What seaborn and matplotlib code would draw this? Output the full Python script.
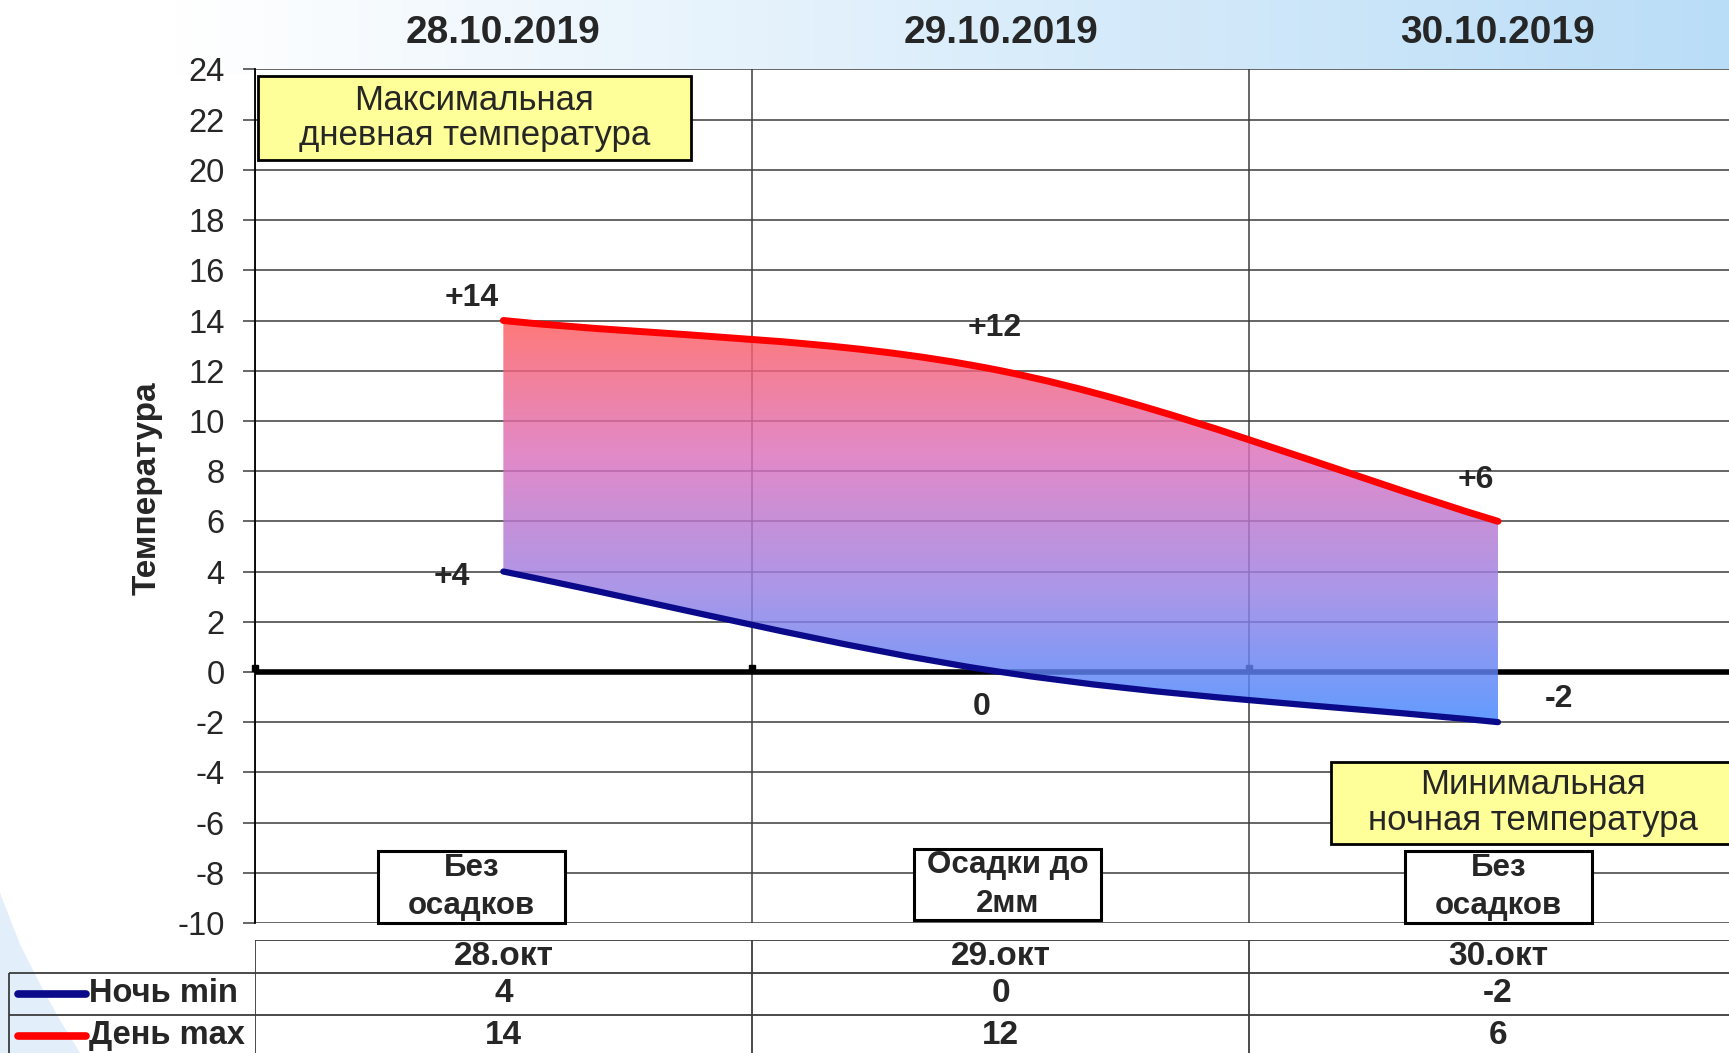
import numpy as np
import pandas as pd
import seaborn as sns
import matplotlib.pyplot as plt
import matplotlib.transforms as mtransforms
from matplotlib.path import Path
from matplotlib.patches import PathPatch, Rectangle, Polygon

# --- data ---
dates = ["28.10.2019", "29.10.2019", "30.10.2019"]
short_dates = ["28.окт", "29.окт", "30.окт"]
night_min = [4, 0, -2]
day_max = [14, 12, 6]
precip = ["Без\nосадков", "Осадки до\n2мм", "Без\nосадков"]
series_names = ["Ночь min", "День max"]

df = pd.DataFrame({"date": dates, "short": short_dates, "tmin": night_min, "tmax": day_max})
df["x"] = np.arange(len(df)) + 0.5

RED = "#ff0000"
NAVY = "#0a0a8a"

sns.set_theme(style="white", rc={"axes.unicode_minus": False})
plt.rcParams["font.family"] = ["Liberation Sans", "DejaVu Sans"]


def smooth_path(xs, ys):
    # excel style "smoothed line": bezier segments through the points
    xs = np.asarray(xs, float)
    ys = np.asarray(ys, float)
    n = len(xs)
    slopes = []
    for i in range(n):
        if i == 0:
            slopes.append((ys[1] - ys[0]) / (xs[1] - xs[0]))
        elif i == n - 1:
            slopes.append((ys[-1] - ys[-2]) / (xs[-1] - xs[-2]))
        else:
            slopes.append((ys[i + 1] - ys[i - 1]) / (xs[i + 1] - xs[i - 1]))
    verts = [(xs[0], ys[0])]
    codes = [Path.MOVETO]
    for i in range(n - 1):
        h = (xs[i + 1] - xs[i]) / 3
        verts += [(xs[i] + h, ys[i] + slopes[i] * h),
                  (xs[i + 1] - h, ys[i + 1] - slopes[i + 1] * h),
                  (xs[i + 1], ys[i + 1])]
        codes += [Path.CURVE4] * 3
    return verts, codes


fig = plt.figure(figsize=(17.29, 10.53), dpi=100)
fig.patch.set_facecolor("white")

# --- background: gradient header band + pale swoosh bottom left ---
bg = fig.add_axes([0, 0, 1, 1], zorder=-5)
bg.axis("off")
gx = np.linspace(0, 1, 512)
t = np.clip((gx - 0.10) / 0.90, 0, 1)
c0 = np.array([255, 255, 255]) / 255
c1 = np.array([186, 221, 247]) / 255
grad = (c0[None, :] * (1 - t[:, None]) + c1[None, :] * t[:, None])[None, :, :]
bg.imshow(grad, extent=(0, 1, 0.93, 1), aspect="auto")
bg.add_patch(Polygon([(0, 0.152), (0.0116, 0.103), (0.023, 0.066), (0.0347, 0.031),
                      (0.0463, 0), (0, 0)], closed=True, facecolor="#e2eefa", edgecolor="none"))
bg.set_xlim(0, 1)
bg.set_ylim(0, 1)

# --- main chart ---
ax = fig.add_axes([0.1473, 0.1235, 0.8629, 0.8105])
ax.set_facecolor("white")

top_v, top_c = smooth_path(df["x"], df["tmax"])
bot_v, bot_c = smooth_path(df["x"], df["tmin"])

# closed outline for the gradient band
rev = bot_v[::-1]
band_v = top_v + rev + [top_v[0]]
band_c = top_c + [Path.LINETO] + [Path.CURVE4] * (len(rev) - 1) + [Path.CLOSEPOLY]
band = PathPatch(Path(band_v, band_c), facecolor="none", edgecolor="none")
ax.add_patch(band)

cmap = sns.blend_palette(["#4086ff", "#9a80e4", "#dc70bc", "#ff5c5c"], as_cmap=True)
im = ax.imshow(np.linspace(1, 0, 256).reshape(-1, 1), cmap=cmap, aspect="auto",
               extent=(df["x"].min(), df["x"].max(), min(night_min), max(day_max)),
               alpha=0.82, zorder=3, interpolation="bilinear")
im.set_clip_path(band)

ax.add_patch(PathPatch(Path(top_v, top_c), facecolor="none", edgecolor=RED, lw=5,
                       capstyle="round", zorder=4))
ax.add_patch(PathPatch(Path(bot_v, bot_c), facecolor="none", edgecolor=NAVY, lw=4.5,
                       capstyle="round", zorder=4))

ax.set_xlim(0, len(dates))
ax.set_ylim(-10, 24)
ax.set_yticks(range(-10, 25, 2))
ax.grid(axis="y", color="#3c3c3c", lw=1.1)
ax.set_xticks(np.arange(len(dates) + 1), minor=True)
ax.grid(axis="x", which="minor", color="#3c3c3c", lw=1.1)
ax.set_xticks(df["x"])
ax.set_xticklabels(dates, fontsize=28, fontweight="bold")
ax.xaxis.tick_top()
ax.tick_params(axis="x", which="both", length=0, pad=13)
ax.tick_params(axis="y", left=True, length=8.6, width=1.1, color="#3c3c3c", pad=13, labelsize=23.5)
sns.despine(ax=ax, top=True, right=True, bottom=True)
ax.spines["left"].set_color("black")
ax.spines["left"].set_linewidth(1.3)

ax.set_ylabel("Температура", fontsize=24, fontweight="bold")
ax.yaxis.set_label_coords(-0.062, 0.51)

# zero line with small category tick squares
ax.axhline(0, color="black", lw=4, zorder=2.5)
sq = mtransforms.offset_copy(ax.transData, fig=fig, x=0, y=3, units="points")
ax.plot(np.arange(len(dates)), np.zeros(len(dates)), "s", color="black", ms=5,
        transform=sq, zorder=2.6, clip_on=False)

# point labels
def lab(v):
    return "0" if v == 0 else f"{v:+d}"

max_off = [(-23, 16), (-4, 31), (-16, 30)]
min_off = [(-37, -4), (-14, -25), (44, 17)]
for x, v, o in zip(df["x"], df["tmax"], max_off):
    ax.annotate(lab(v), (x, v), xytext=o, textcoords="offset points", ha="center",
                va="center", fontsize=23, fontweight="bold", zorder=6)
for x, v, o in zip(df["x"], df["tmin"], min_off):
    ax.annotate(lab(v), (x, v), xytext=o, textcoords="offset points", ha="center",
                va="center", fontsize=23, fontweight="bold", zorder=6)

# yellow captions
ax.add_patch(Rectangle((0.007, 20.4), 0.871, 3.34, facecolor="#ffff99", edgecolor="black",
                       lw=2, zorder=5))
ax.text(0.442, 22.07, "Максимальная\nдневная температура", ha="center", va="center",
        fontsize=25, linespacing=1.08, zorder=6)
ax.add_patch(Rectangle((2.164, -6.84), 0.812, 3.25, facecolor="#ffff99", edgecolor="black",
                       lw=2, zorder=5))
ax.text(2.57, -5.2, "Минимальная\nночная температура", ha="center", va="center",
        fontsize=25, linespacing=1.08, zorder=6)

# precipitation boxes
box_x = [(0.248, -10.0), (1.326, -9.9), (2.313, -10.0)]
for (bx, by), txt in zip(box_x, precip):
    ax.add_patch(Rectangle((bx, by), 0.376, 2.86, facecolor="white", edgecolor="black",
                           lw=2.2, zorder=5, clip_on=False))
    ax.text(bx + 0.188, by + 1.43, txt, ha="center", va="center", fontsize=22.5,
            fontweight="bold", linespacing=1.38, zorder=6)

# --- data table under the chart ---
tax = fig.add_axes([0.1473, -0.00285, 0.8629, 0.1106])
tax.set_xlim(0, len(dates))
tax.set_ylim(116.5, 0)
tax.axis("off")
lc = "#3c3c3c"
left = -0.4945
tax.hlines([0], 0, len(dates), color=lc, lw=1.3)
tax.hlines([33, 75], left, len(dates), color=lc, lw=1.3, clip_on=False)
tax.vlines(np.arange(len(dates) + 1), 0, 116.5, color=lc, lw=1.3)
tax.vlines([left], 33, 116.5, color=lc, lw=1.3, clip_on=False)

for x, s, lo, hi in zip(df["x"], df["short"], df["tmin"], df["tmax"]):
    tax.text(x, 16.5, s, ha="center", va="center", fontsize=24, fontweight="bold")
    tax.text(x, 54, str(lo), ha="center", va="center", fontsize=24, fontweight="bold")
    tax.text(x, 96, str(hi), ha="center", va="center", fontsize=24, fontweight="bold")

for yy, name, col in zip([54, 96], series_names, [NAVY, RED]):
    tax.plot([-0.476, -0.34], [yy, yy], color=col, lw=5.5, solid_capstyle="round",
             clip_on=False)
    tax.text(-0.333, yy, name, ha="left", va="center", fontsize=23.5, fontweight="bold",
             clip_on=False)

fig.savefig("out.png", dpi=100)
